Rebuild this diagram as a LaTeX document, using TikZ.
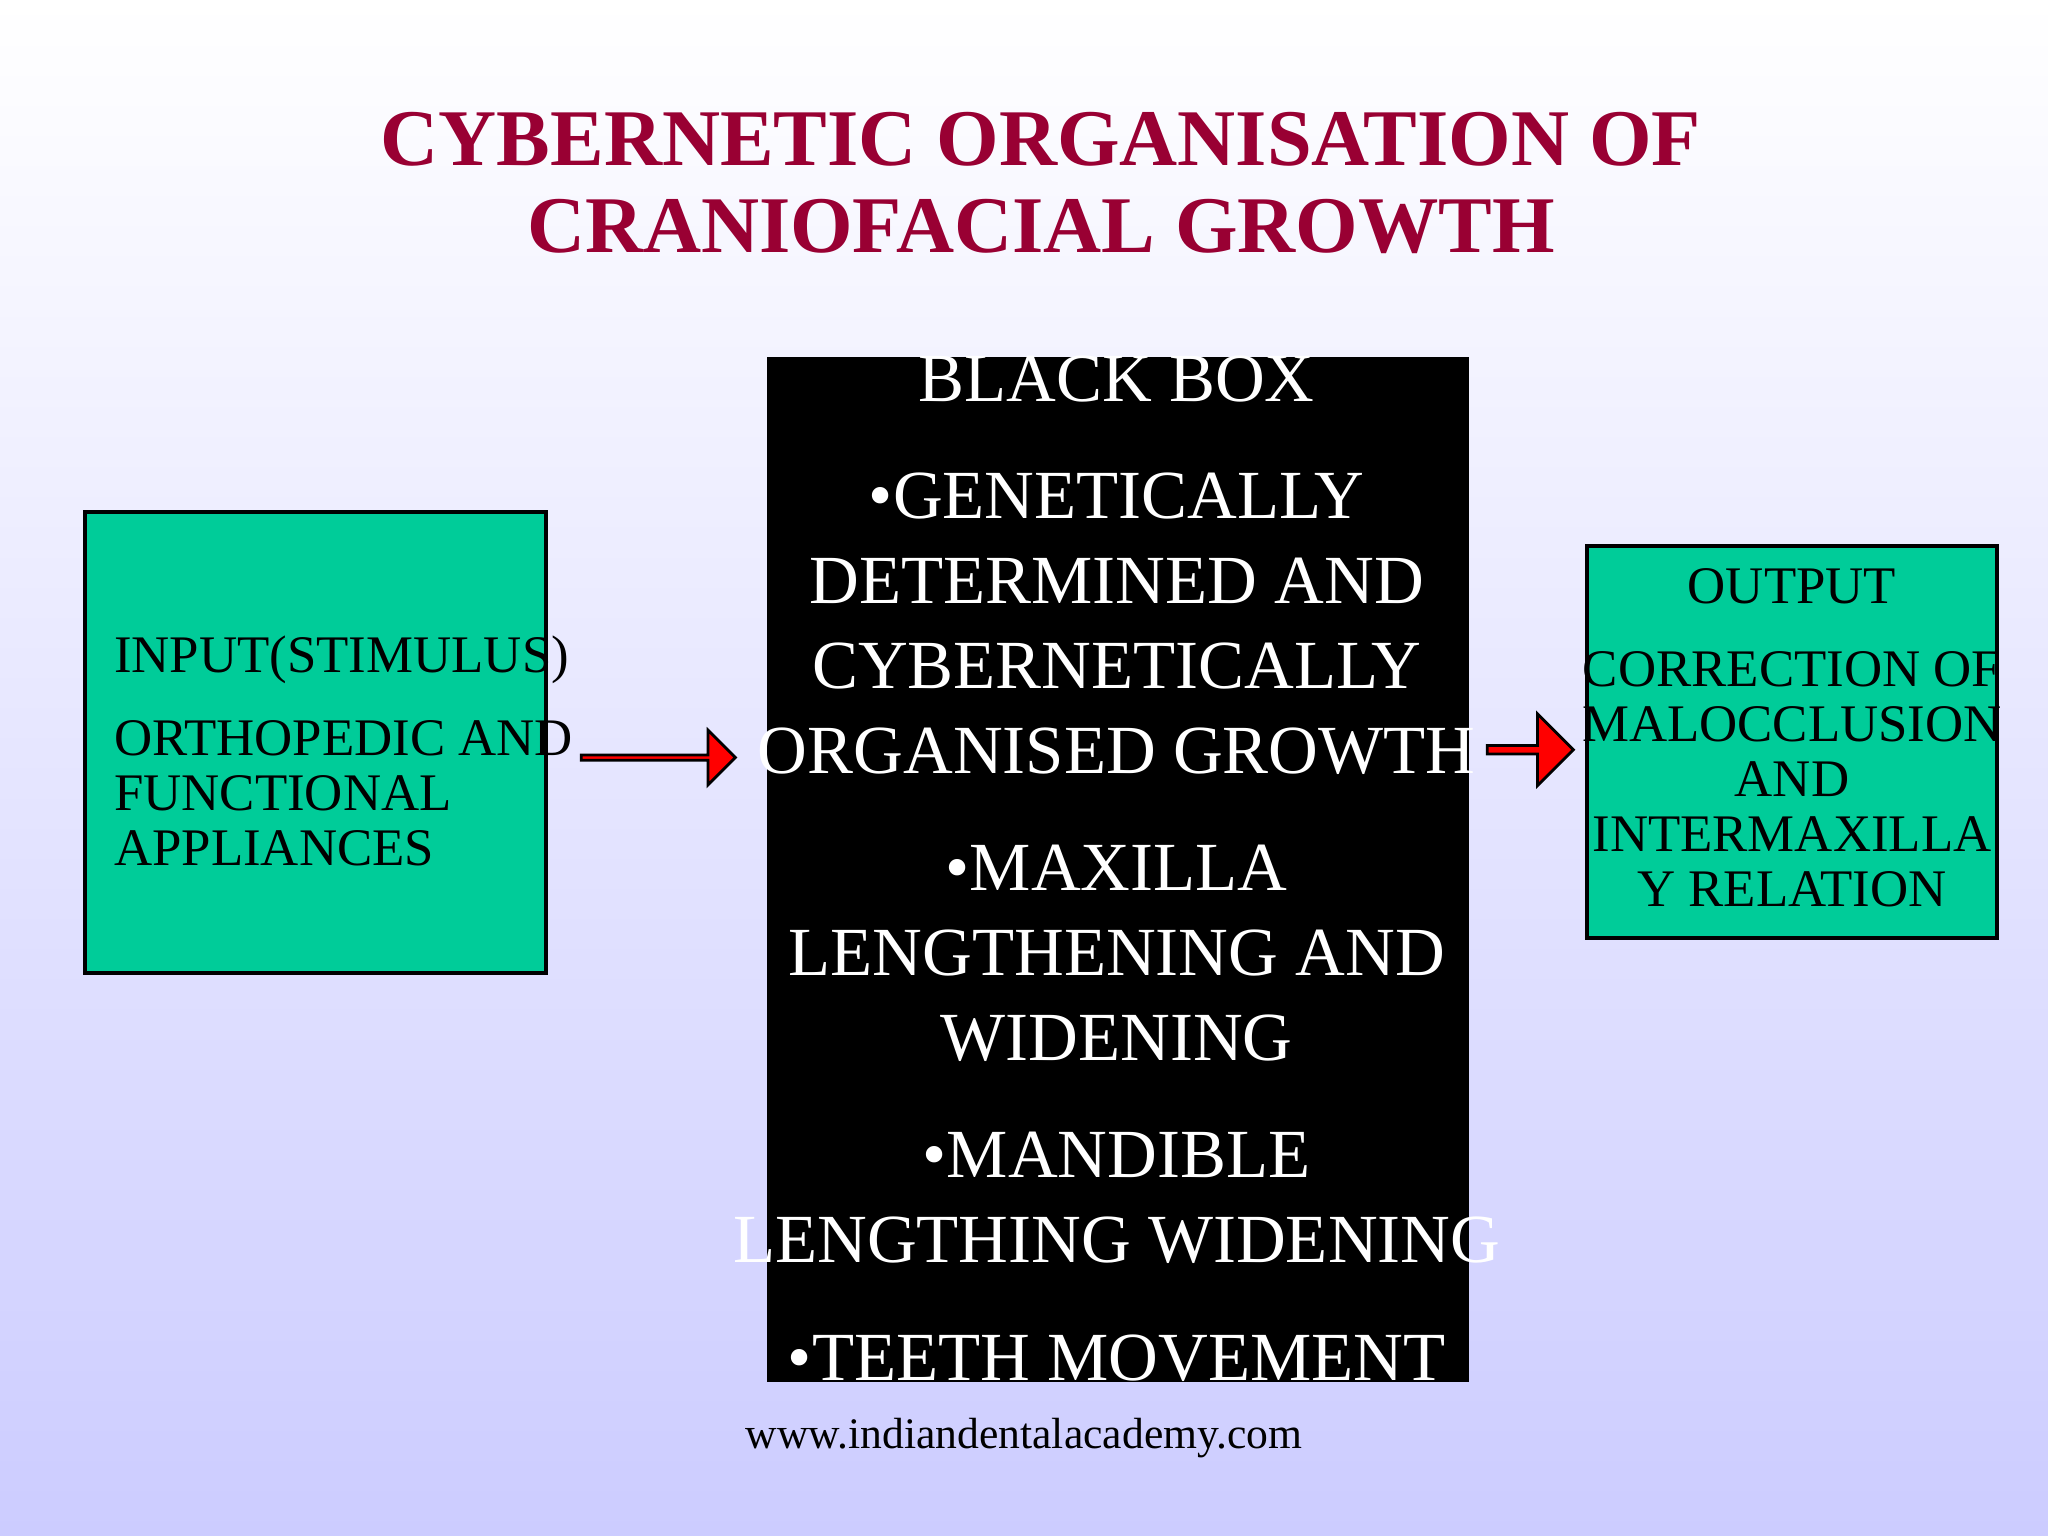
\documentclass[tikz,border=0pt]{standalone}
\usepackage{fontspec}
\setmainfont{Liberation Serif}
\usetikzlibrary{shapes.arrows}
\definecolor{titlered}{RGB}{153,0,51}
\definecolor{boxgreen}{RGB}{0,204,153}
\definecolor{lav}{RGB}{204,204,255}
\tikzset{
 greenbox/.style={draw=black,fill=boxgreen,line width=0.8pt},
 redarrow/.style={single arrow,fill=red,draw=black,line width=0.6pt,single arrow head extend=0.12cm,inner sep=0pt,minimum width=0.2cm},
 bt/.style={text=white,font=\fontsize{15}{18.5}\selectfont,align=center},
 gt/.style={font=\fontsize{11.5}{12}\selectfont}
}
\begin{document}
\begin{tikzpicture}[x=0.01cm,y=-0.01cm]
\shade[top color=white,bottom color=lav] (0,0) rectangle (1568,1176);
\useasboundingbox (0,0) rectangle (1568,1176);
\node[text=titlered,font=\bfseries\fontsize{17.5}{18}\selectfont,align=center] (title) at (797,140) {CYBERNETIC ORGANISATION OF\\[0.9pt]CRANIOFACIAL GROWTH};
\draw[greenbox] (65,392) rectangle (418,745);
\node[gt,anchor=west,align=left] (in) at (75,575) {INPUT(STIMULUS)\\[6pt]ORTHOPEDIC AND\\FUNCTIONAL\\APPLIANCES};
\fill (587,273) rectangle (1125,1058);
\node[bt] (bb) at (855,665) {BLACK BOX\\[7pt]•GENETICALLY\\DETERMINED AND\\CYBERNETICALLY\\ORGANISED GROWTH\\[7pt]•MAXILLA\\LENGTHENING AND\\WIDENING\\[7pt]•MANDIBLE\\LENGTHING WIDENING\\[7pt]•TEETH MOVEMENT};
\draw[greenbox] (1215,418) rectangle (1529,718);
\node[gt,align=center] (out) at (1372,565) {OUTPUT\\[6pt]CORRECTION OF\\MALOCCLUSION\\AND\\INTERMAXILLA\\Y RELATION};
\node[redarrow,minimum height=1.18cm,minimum width=0.42cm,single arrow head extend=0.1cm] (a1) at (503,580) {};
\node[redarrow,minimum height=0.66cm,minimum width=0.55cm,single arrow head extend=0.08cm] (a2) at (1170,574) {};
\node[font=\fontsize{9.5}{10}\selectfont] (url) at (784,1101) {www.indiandentalacademy.com};
\end{tikzpicture}
\end{document}
